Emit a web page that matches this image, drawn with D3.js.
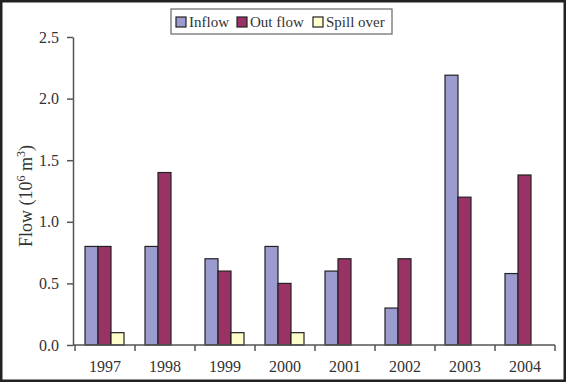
<!doctype html>
<html>
<head>
<meta charset="utf-8">
<script src="https://d3js.org/d3.v7.min.js"></script>
<style>
  body { margin: 0; background: #fff; }
  svg { display: block; font-family: "Liberation Serif", "Times New Roman", serif; }
</style>
</head>
<body>
<div id="chart"></div>
<script>
// data
var years = ["1997", "1998", "1999", "2000", "2001", "2002", "2003", "2004"];
var seriesNames = ["Inflow", "Out flow", "Spill over"];
var inflow = [0.8, 0.8, 0.7, 0.8, 0.6, 0.3, 2.19, 0.58];
var outflow = [0.8, 1.4, 0.6, 0.5, 0.7, 0.7, 1.2, 1.38];
var spillover = [0.1, 0, 0.1, 0.1, 0, 0, 0, 0];
var yTicks = [0, 0.5, 1.0, 1.5, 2.0, 2.5];
var colors = ["#9b9bd0", "#993366", "#ffffcc"];

var W = 566, H = 382;
var svg = d3.select("#chart").append("svg")
    .attr("width", W)
    .attr("height", H);

// outer frame
svg.append("rect")
    .attr("x", 1).attr("y", 1)
    .attr("width", W - 2).attr("height", H - 2)
    .attr("fill", "#fff")
    .attr("stroke", "#222")
    .attr("stroke-width", 3);

var x = d3.scaleBand().domain(years).range([75, 555]);
var y = d3.scaleLinear().domain([0, 2.5]).range([345, 37]);
var barW = 13, groupOff = 10;

var data = [inflow, outflow, spillover];

// bars, one group per series
data.forEach(function(vals, s) {
  svg.append("g").selectAll("rect")
      .data(vals.map(function(v, i) { return {year: years[i], val: v}; })
        .filter(function(d) { return d.val > 0; }))
    .enter().append("rect")
      .attr("x", function(d) { return x(d.year) + groupOff + s * barW; })
      .attr("y", function(d) { return y(d.val); })
      .attr("width", barW)
      .attr("height", function(d) { return y(0) - y(d.val); })
      .attr("fill", colors[s])
      .attr("stroke", "#222")
      .attr("stroke-width", 1.2);
});

// y axis
var yAxis = svg.append("g")
    .attr("transform", "translate(73,0)")
    .call(d3.axisLeft(y).tickValues(yTicks).tickFormat(d3.format(".1f")).tickSize(6).tickSizeOuter(0));
yAxis.attr("font-family", null).attr("font-size", null);
yAxis.select(".domain").attr("stroke", "#555").attr("stroke-width", 1.5);
yAxis.selectAll(".tick line").attr("stroke", "#555").attr("stroke-width", 1.5);
yAxis.selectAll("text").attr("font-size", 16).attr("fill", "#333").attr("x", -14);

// x axis
var xAxis = svg.append("g")
    .attr("transform", "translate(0,345)");
xAxis.append("line")
    .attr("x1", 73).attr("x2", 555)
    .attr("stroke", "#555").attr("stroke-width", 1.5);
xAxis.selectAll(".xt")
    .data(years.concat(["end"]))
  .enter().append("line")
    .attr("x1", function(d, i) { return i < years.length ? x(d) : x.range()[1]; })
    .attr("x2", function(d, i) { return i < years.length ? x(d) : x.range()[1]; })
    .attr("y1", 0).attr("y2", 6)
    .attr("stroke", "#555").attr("stroke-width", 1.5);
xAxis.selectAll(".xl")
    .data(years)
  .enter().append("text")
    .attr("x", function(d) { return x(d) + x.bandwidth() / 2; })
    .attr("y", 27)
    .attr("text-anchor", "middle")
    .attr("font-size", 16)
    .attr("fill", "#333")
    .text(function(d) { return d; });

// y label
var yl = svg.append("text")
    .attr("transform", "translate(32,196) rotate(-90)")
    .attr("text-anchor", "middle")
    .attr("font-size", 18)
    .attr("fill", "#333");
yl.append("tspan").text("Flow (10");
yl.append("tspan").attr("dy", -7).attr("font-size", 12).text("6");
yl.append("tspan").attr("dy", 7).text(" m");
yl.append("tspan").attr("dy", -7).attr("font-size", 12).text("3");
yl.append("tspan").attr("dy", 7).text(")");

// legend
var lg = svg.append("g");
lg.append("rect")
    .attr("x", 171).attr("y", 9)
    .attr("width", 221).attr("height", 25)
    .attr("fill", "#fff")
    .attr("stroke", "#666").attr("stroke-width", 1.2);
var legX = [176, 237, 313];
seriesNames.forEach(function(name, i) {
  lg.append("rect")
      .attr("x", legX[i]).attr("y", 17)
      .attr("width", 10).attr("height", 10)
      .attr("fill", colors[i])
      .attr("stroke", "#222").attr("stroke-width", 1.2);
  lg.append("text")
      .attr("x", legX[i] + 13).attr("y", 27)
      .attr("font-size", 15)
      .attr("fill", "#333")
      .text(name);
});
</script>
</body>
</html>
